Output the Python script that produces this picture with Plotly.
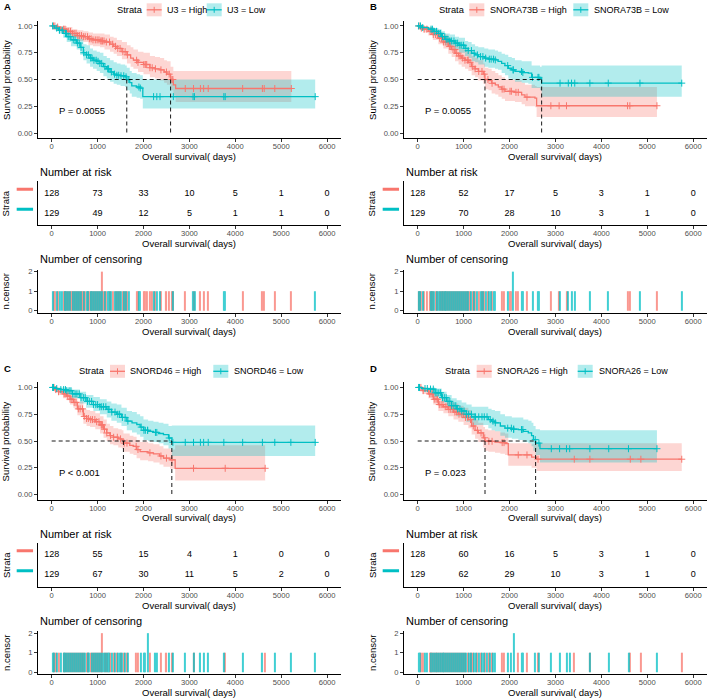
import numpy as np
import plotly.graph_objects as go
from collections import Counter

RED = "#F8766D"
TEAL = "#00BFC4"
RED_F = "rgba(248,118,109,0.3)"
TEAL_F = "rgba(0,191,196,0.3)"
FONT = "Liberation Sans, Arial, sans-serif"

# ---------------- DATA ----------------
risk_times = [0, 1000, 2000, 3000, 4000, 5000, 6000]
x_ticks = [0, 1000, 2000, 3000, 4000, 5000, 6000]
y_ticks = [0, 0.25, 0.5, 0.75, 1.0]
y_ticklabels = ["0.00", "0.25", "0.50", "0.75", "1.00"]

# Panel A : U3
a_high_t = [0, 80, 200, 330, 450, 560, 690, 800, 900, 1054, 1150, 1270, 1350, 1420, 1530, 1640, 1720, 1780, 1880, 2000, 2140, 2250, 2360, 2450, 2510, 2590, 2650, 2700, 5220]
a_high_s = [1.0, 0.99, 0.97, 0.95, 0.93, 0.91, 0.90, 0.88, 0.87, 0.86, 0.85, 0.83, 0.81, 0.79, 0.76, 0.73, 0.70, 0.68, 0.66, 0.64, 0.61, 0.60, 0.59, 0.57, 0.55, 0.50, 0.45, 0.416, 0.416]
a_high_lo = [1.0, 0.97, 0.94, 0.91, 0.89, 0.86, 0.85, 0.82, 0.81, 0.80, 0.78, 0.76, 0.74, 0.72, 0.69, 0.65, 0.62, 0.60, 0.57, 0.55, 0.52, 0.51, 0.49, 0.47, 0.45, 0.40, 0.35, 0.29, 0.29]
a_high_hi = [1.0, 1.0, 1.0, 0.99, 0.97, 0.96, 0.95, 0.94, 0.93, 0.93, 0.92, 0.90, 0.89, 0.87, 0.85, 0.82, 0.80, 0.78, 0.76, 0.75, 0.72, 0.71, 0.70, 0.68, 0.67, 0.62, 0.58, 0.58, 0.58]
a_low_t = [0, 60, 150, 250, 327, 420, 545, 620, 690, 760, 836, 900, 981, 1050, 1127, 1200, 1272, 1350, 1418, 1500, 1600, 1636, 1700, 1745, 1850, 1927, 1985, 5740]
a_low_s = [1.0, 0.98, 0.96, 0.93, 0.90, 0.87, 0.84, 0.80, 0.75, 0.73, 0.70, 0.68, 0.67, 0.65, 0.62, 0.60, 0.57, 0.55, 0.54, 0.535, 0.525, 0.50, 0.47, 0.44, 0.43, 0.42, 0.34, 0.34]
a_low_lo = [1.0, 0.96, 0.93, 0.89, 0.85, 0.81, 0.78, 0.73, 0.68, 0.65, 0.62, 0.60, 0.58, 0.56, 0.53, 0.51, 0.48, 0.46, 0.45, 0.44, 0.43, 0.40, 0.37, 0.34, 0.33, 0.32, 0.23, 0.23]
a_low_hi = [1.0, 1.0, 0.99, 0.97, 0.95, 0.93, 0.91, 0.88, 0.83, 0.82, 0.79, 0.77, 0.76, 0.75, 0.72, 0.70, 0.68, 0.66, 0.65, 0.64, 0.63, 0.61, 0.58, 0.56, 0.55, 0.54, 0.50, 0.50]
a_high_cens = [40, 70, 130, 260, 290, 330, 370, 410, 450, 490, 530, 570, 610, 650, 690, 730, 780, 820, 860, 900, 950, 990, 1030, 1070, 1100, 1100, 1140, 1190, 1260, 1330, 1390, 1440, 1490, 1550, 1600, 1650,
               1850, 1880, 2010, 2040, 2070, 2140, 2190, 2260, 2380, 2500, 2560, 2620, 2640, 2910, 3090, 3240, 3310, 3410, 4160, 4590, 4630, 4860, 5220]
a_low_cens = [20, 110, 170, 230, 300, 320, 360, 400, 470, 510, 560, 600, 640, 700, 760, 800, 850, 880, 920, 970, 1010, 1050, 1090, 1160, 1220, 1240, 1300, 1370, 1420, 1460, 1510, 1570, 1620, 1680,
              1900, 1930, 2220, 2290, 2360, 2650, 3080, 3110, 3750, 3780, 5740]
a_risk_high = [128, 73, 33, 10, 5, 1, 0]
a_risk_low = [129, 49, 12, 5, 1, 1, 0]
a_medians = [2590, 1636]

# Panel B : SNORA73B
b_high_t = [0, 60, 130, 232, 330, 450, 560, 667, 740, 813, 890, 958, 1030, 1103, 1175, 1250, 1320, 1429, 1465, 1540, 1611, 1690, 1756, 1830, 1901, 2118, 2264, 2336, 2554, 2590, 5210]
b_high_s = [1.0, 0.98, 0.97, 0.95, 0.92, 0.885, 0.85, 0.81, 0.78, 0.745, 0.72, 0.70, 0.68, 0.66, 0.62, 0.60, 0.575, 0.55, 0.50, 0.49, 0.465, 0.45, 0.43, 0.41, 0.39, 0.38, 0.357, 0.335, 0.326, 0.255, 0.255]
b_high_lo = [1.0, 0.96, 0.94, 0.91, 0.87, 0.83, 0.79, 0.74, 0.71, 0.67, 0.64, 0.62, 0.60, 0.58, 0.54, 0.52, 0.49, 0.46, 0.41, 0.40, 0.37, 0.36, 0.34, 0.32, 0.30, 0.29, 0.27, 0.25, 0.24, 0.15, 0.15]
b_high_hi = [1.0, 1.0, 1.0, 0.99, 0.97, 0.94, 0.92, 0.89, 0.86, 0.83, 0.81, 0.79, 0.77, 0.76, 0.72, 0.70, 0.68, 0.65, 0.61, 0.60, 0.58, 0.56, 0.54, 0.52, 0.50, 0.49, 0.47, 0.45, 0.44, 0.43, 0.43]
b_low_t = [0, 100, 232, 350, 450, 520, 595, 700, 813, 900, 1030, 1100, 1175, 1250, 1320, 1450, 1538, 1683, 1750, 1828, 1900, 1973, 2050, 2118, 2264, 2409, 2481, 2663, 2699, 5750]
b_low_s = [1.0, 0.985, 0.97, 0.95, 0.93, 0.90, 0.875, 0.86, 0.84, 0.82, 0.79, 0.77, 0.745, 0.73, 0.714, 0.70, 0.69, 0.683, 0.67, 0.65, 0.63, 0.605, 0.59, 0.575, 0.565, 0.56, 0.52, 0.51, 0.466, 0.466]
b_low_lo = [1.0, 0.96, 0.94, 0.91, 0.88, 0.85, 0.82, 0.80, 0.78, 0.75, 0.72, 0.70, 0.67, 0.66, 0.64, 0.62, 0.61, 0.60, 0.59, 0.56, 0.54, 0.51, 0.50, 0.48, 0.47, 0.46, 0.42, 0.40, 0.34, 0.34]
b_low_hi = [1.0, 1.0, 0.99, 0.98, 0.97, 0.95, 0.93, 0.92, 0.90, 0.89, 0.86, 0.85, 0.83, 0.81, 0.80, 0.79, 0.78, 0.77, 0.76, 0.74, 0.73, 0.71, 0.70, 0.68, 0.67, 0.67, 0.63, 0.62, 0.63, 0.63]
b_high_cens = [30, 80, 140, 200, 270, 300, 340, 390, 430, 480, 520, 560, 600, 640, 690, 720, 770, 810, 850, 900, 940, 980, 1030, 1080, 1100, 1140, 1200, 1250, 1330, 1400, 1450, 1530, 1620,
               1840, 1880, 2010, 2040, 2140, 2190, 2380, 2900, 3080, 3240, 4570, 4620, 5210]
b_low_cens = [20, 60, 110, 290, 320, 360, 410, 460, 500, 540, 590, 620, 660, 700, 740, 790, 830, 870, 920, 960, 1000, 1050, 1100, 1170, 1230, 1300, 1370, 1420, 1480, 1560, 1600, 1650, 1690,
              1960, 2080, 2080, 2260, 2290, 2500, 2620, 2640, 3100, 3280, 3350, 3420, 3750, 4150, 4840, 5750]
b_risk_high = [128, 52, 17, 5, 3, 1, 0]
b_risk_low = [129, 70, 28, 10, 3, 1, 0]
b_medians = [1465, 2699]

# Panel C : SNORD46
c_high_t = [0, 60, 150, 250, 327, 400, 473, 560, 690, 760, 836, 950, 1054, 1130, 1200, 1270, 1345, 1450, 1527, 1563, 1700, 1781, 1850, 1927, 2100, 2217, 2350, 2435, 2581, 2690, 4650]
c_high_s = [1.0, 0.98, 0.96, 0.94, 0.92, 0.89, 0.86, 0.80, 0.73, 0.71, 0.70, 0.68, 0.65, 0.61, 0.575, 0.55, 0.535, 0.52, 0.51, 0.48, 0.46, 0.45, 0.42, 0.40, 0.39, 0.38, 0.36, 0.34, 0.324, 0.245, 0.245]
c_high_lo = [1.0, 0.96, 0.93, 0.90, 0.88, 0.84, 0.81, 0.74, 0.66, 0.64, 0.63, 0.61, 0.57, 0.53, 0.50, 0.47, 0.46, 0.44, 0.43, 0.40, 0.38, 0.37, 0.34, 0.32, 0.31, 0.30, 0.28, 0.26, 0.24, 0.13, 0.13]
c_high_hi = [1.0, 1.0, 0.99, 0.98, 0.97, 0.94, 0.92, 0.87, 0.80, 0.79, 0.78, 0.76, 0.73, 0.70, 0.66, 0.64, 0.62, 0.61, 0.60, 0.57, 0.55, 0.54, 0.51, 0.49, 0.48, 0.47, 0.45, 0.43, 0.42, 0.46, 0.46]
c_low_t = [0, 100, 200, 327, 450, 618, 750, 909, 1050, 1200, 1300, 1418, 1520, 1636, 1750, 1854, 1927, 2000, 2100, 2217, 2330, 2435, 2545, 2617, 5740]
c_low_s = [1.0, 0.99, 0.98, 0.97, 0.94, 0.905, 0.87, 0.84, 0.82, 0.795, 0.77, 0.75, 0.72, 0.686, 0.67, 0.654, 0.63, 0.60, 0.59, 0.58, 0.57, 0.56, 0.528, 0.487, 0.487]
c_low_lo = [1.0, 0.97, 0.96, 0.94, 0.90, 0.85, 0.81, 0.78, 0.75, 0.72, 0.69, 0.67, 0.64, 0.60, 0.58, 0.56, 0.54, 0.51, 0.50, 0.49, 0.48, 0.46, 0.43, 0.36, 0.36]
c_low_hi = [1.0, 1.0, 1.0, 0.99, 0.98, 0.96, 0.93, 0.91, 0.89, 0.87, 0.85, 0.84, 0.81, 0.78, 0.77, 0.75, 0.73, 0.70, 0.69, 0.68, 0.67, 0.66, 0.64, 0.645, 0.645]
c_high_cens = [50, 90, 150, 270, 310, 350, 400, 440, 490, 530, 580, 620, 670, 710, 760, 800, 850, 890, 940, 980, 1030, 1080, 1100, 1100, 1150, 1200, 1280, 1350, 1430, 1500, 1580, 1640,
               1840, 1880, 2140, 2380, 2500, 2620, 3090, 3780, 4650]
c_low_cens = [20, 40, 110, 200, 260, 300, 330, 380, 420, 460, 510, 550, 600, 640, 690, 730, 780, 820, 870, 910, 960, 1000, 1050, 1090, 1130, 1180, 1230, 1250, 1310, 1380, 1440, 1480, 1540, 1600, 1660,
              1950, 2010, 2040, 2090, 2090, 2260, 2290, 2560, 2640, 2910, 3090, 3240, 3310, 3410, 3750, 4160, 4590, 4860, 5210, 5740]
c_risk_high = [128, 55, 15, 4, 1, 0, 0]
c_risk_low = [129, 67, 30, 11, 5, 2, 0]
c_medians = [1563, 2617]

# Panel D : SNORA26
d_high_t = [0, 100, 232, 340, 450, 560, 667, 780, 885, 1000, 1103, 1175, 1250, 1320, 1429, 1466, 1538, 1683, 1800, 1901, 1973, 2481, 2590, 5750]
d_high_s = [1.0, 0.97, 0.94, 0.89, 0.84, 0.82, 0.795, 0.77, 0.75, 0.72, 0.70, 0.64, 0.60, 0.575, 0.53, 0.50, 0.497, 0.49, 0.485, 0.475, 0.37, 0.35, 0.33, 0.33]
d_high_lo = [1.0, 0.94, 0.90, 0.84, 0.78, 0.76, 0.73, 0.70, 0.68, 0.65, 0.62, 0.56, 0.52, 0.49, 0.44, 0.41, 0.40, 0.39, 0.38, 0.37, 0.27, 0.25, 0.22, 0.22]
d_high_hi = [1.0, 1.0, 0.99, 0.95, 0.91, 0.89, 0.87, 0.85, 0.83, 0.81, 0.79, 0.73, 0.70, 0.67, 0.63, 0.61, 0.60, 0.59, 0.58, 0.57, 0.48, 0.47, 0.48, 0.48]
d_low_t = [0, 80, 232, 380, 522, 630, 740, 850, 958, 1060, 1175, 1538, 1610, 1683, 1800, 1901, 2050, 2191, 2300, 2409, 2480, 2520, 2568, 2663, 5210]
d_low_s = [1.0, 0.99, 0.985, 0.95, 0.905, 0.87, 0.83, 0.80, 0.78, 0.75, 0.726, 0.70, 0.685, 0.67, 0.64, 0.62, 0.61, 0.607, 0.59, 0.575, 0.55, 0.513, 0.48, 0.428, 0.428]
d_low_lo = [1.0, 0.97, 0.96, 0.91, 0.86, 0.81, 0.77, 0.73, 0.71, 0.68, 0.65, 0.62, 0.60, 0.59, 0.55, 0.53, 0.52, 0.51, 0.49, 0.48, 0.45, 0.41, 0.37, 0.30, 0.30]
d_low_hi = [1.0, 1.0, 1.0, 0.99, 0.96, 0.93, 0.90, 0.88, 0.86, 0.84, 0.82, 0.80, 0.79, 0.78, 0.75, 0.73, 0.72, 0.72, 0.70, 0.69, 0.67, 0.64, 0.61, 0.60, 0.60]
d_high_cens = [70, 120, 260, 290, 320, 360, 400, 430, 470, 510, 550, 600, 640, 680, 720, 770, 810, 850, 900, 950, 990, 1040, 1090, 1150, 1210, 1300, 1380, 1460, 1550, 1620,
               1840, 1880, 2190, 2380, 2620, 3410, 3750, 4630, 4860, 5750]
d_low_cens = [20, 40, 160, 210, 280, 340, 380, 420, 460, 500, 540, 580, 620, 660, 700, 740, 790, 830, 870, 920, 960, 1010, 1060, 1110, 1170, 1230, 1260, 1330, 1400, 1450, 1510, 1580, 1640, 1690,
              1960, 2040, 2090, 2090, 2260, 2290, 2560, 2640, 2910, 3090, 3240, 3310, 3750, 4160, 4590, 5210]
d_risk_high = [128, 60, 16, 5, 3, 1, 0]
d_risk_low = [129, 62, 29, 10, 3, 1, 0]
d_medians = [1466, 2568]

panels = [
    dict(letter="A", gene="U3", pval="P = 0.0055",
         high=(a_high_t, a_high_s, a_high_lo, a_high_hi, a_high_cens, a_risk_high),
         low=(a_low_t, a_low_s, a_low_lo, a_low_hi, a_low_cens, a_risk_low), med=a_medians,
         leg=[115, 146.7, 165, 206.7, 225]),
    dict(letter="B", gene="SNORA73B", pval="P = 0.0055",
         high=(b_high_t, b_high_s, b_high_lo, b_high_hi, b_high_cens, b_risk_high),
         low=(b_low_t, b_low_s, b_low_lo, b_low_hi, b_low_cens, b_risk_low), med=b_medians,
         leg=[436.7, 469.3, 488.3, 573.3, 591.7]),
    dict(letter="C", gene="SNORD46", pval="P < 0.001",
         high=(c_high_t, c_high_s, c_high_lo, c_high_hi, c_high_cens, c_risk_high),
         low=(c_low_t, c_low_s, c_low_lo, c_low_hi, c_low_cens, c_risk_low), med=c_medians,
         leg=[77.3, 110, 128.3, 213.3, 231.7]),
    dict(letter="D", gene="SNORA26", pval="P = 0.023",
         high=(d_high_t, d_high_s, d_high_lo, d_high_hi, d_high_cens, d_risk_high),
         low=(d_low_t, d_low_s, d_low_lo, d_low_hi, d_low_cens, d_risk_low), med=d_medians,
         leg=[443.3, 476.7, 495, 577.7, 596.7]),
]

# ---------------- LAYOUT GEOMETRY ----------------
W, H = 709, 698
COLS = [(37.9, 340.9), (403.9, 707.0)]
OFFS = [0.0, 361.5]
KM_ROW = (20.6, 138.4)
RISK_ROW = (181.3, 225.3)
CENS_ROW = (269.7, 312.7)


def px(x):
    return x / W


def py(y):
    return 1 - y / H


def step_at(t, s, x):
    t = np.asarray(t, dtype=float)
    s = np.asarray(s, dtype=float)
    i = np.searchsorted(t, np.asarray(x, dtype=float), side="right") - 1
    return s[np.clip(i, 0, len(s) - 1)]


def ann(x, y, text, size, xanchor="center", angle=0, xref="paper", yref="paper", color="black"):
    return dict(x=x, y=y, xref=xref, yref=yref, text=text, showarrow=False,
                xanchor=xanchor, yanchor="middle", textangle=angle,
                font=dict(size=size, color=color, family=FONT))


fig = go.Figure()
layout = {}
annotations = []
shapes = []

tickfont = dict(size=7.6, color="#4D4D4D", family=FONT)
axis_common = dict(showline=True, linecolor="black", linewidth=0.9, ticks="outside",
                   ticklen=3, tickcolor="#333333", tickwidth=0.8, showgrid=False,
                   zeroline=False, tickfont=tickfont, automargin=False)
DASH = "4px,3px"

for p_i, P in enumerate(panels):
    col = p_i % 2
    off = OFFS[p_i // 2]
    x0, x1 = COLS[col]
    idx_km, idx_rk, idx_cn = p_i * 3 + 1, p_i * 3 + 2, p_i * 3 + 3

    def ax(n):
        return ("x" if n == 1 else f"x{n}"), ("y" if n == 1 else f"y{n}")

    for n, (top, bot) in zip((idx_km, idx_rk, idx_cn), (KM_ROW, RISK_ROW, CENS_ROW)):
        xname = "xaxis" if n == 1 else f"xaxis{n}"
        yname = "yaxis" if n == 1 else f"yaxis{n}"
        xa, ya = ax(n)
        layout[xname] = dict(axis_common, domain=[px(x0), px(x1)], anchor=ya,
                             range=[-300, 6300], tickvals=x_ticks, ticklabelstandoff=-2)
        layout[yname] = dict(axis_common, domain=[py(bot + off), py(top + off)], anchor=xa)

    layout["yaxis" if idx_km == 1 else f"yaxis{idx_km}"].update(
        range=[-0.05, 1.05], tickvals=y_ticks, ticktext=y_ticklabels)
    layout[f"yaxis{idx_rk}"].update(range=[0.4, 2.6], showticklabels=False, ticks="")
    layout[f"yaxis{idx_cn}"].update(range=[-0.1, 2.1], tickvals=[0, 1, 2])

    xk, yk = ax(idx_km)
    xr, yr = ax(idx_rk)
    xc, yc = ax(idx_cn)

    groups = [("High", P["high"], RED, RED_F), ("Low", P["low"], TEAL, TEAL_F)]
    # CI bands
    for name, (t, s, lo, hi, cens, risk), c, cf in groups:
        fig.add_trace(go.Scatter(x=t, y=lo, mode="lines", line=dict(width=0, shape="hv", color=c),
                                 xaxis=xk, yaxis=yk, showlegend=False, hoverinfo="skip"))
        fig.add_trace(go.Scatter(x=t, y=hi, mode="lines", line=dict(width=0, shape="hv", color=c),
                                 fill="tonexty", fillcolor=cf,
                                 xaxis=xk, yaxis=yk, showlegend=False, hoverinfo="skip"))
    # curves + censor marks
    for name, (t, s, lo, hi, cens, risk), c, cf in groups:
        fig.add_trace(go.Scatter(x=t, y=s, mode="lines", line=dict(width=1.3, shape="hv", color=c),
                                 xaxis=xk, yaxis=yk, showlegend=False))
        fig.add_trace(go.Scatter(x=cens, y=step_at(t, s, cens), mode="markers",
                                 marker=dict(symbol="cross-thin", size=5, line=dict(width=1, color=c)),
                                 xaxis=xk, yaxis=yk, showlegend=False))
    # median lines
    mh = max(P["med"])
    fig.add_trace(go.Scatter(x=[0, mh], y=[0.5, 0.5], mode="lines",
                             line=dict(color="black", width=0.9, dash=DASH),
                             xaxis=xk, yaxis=yk, showlegend=False))
    for m in P["med"]:
        fig.add_trace(go.Scatter(x=[m, m], y=[0.5, 0], mode="lines",
                                 line=dict(color="black", width=0.9, dash=DASH),
                                 xaxis=xk, yaxis=yk, showlegend=False))
    # p-value
    annotations.append(ann(120, 0.21, P["pval"], 9.5, xanchor="left", xref=xk, yref=yk))

    # risk table
    for yv, (name, (t, s, lo, hi, cens, risk), c, cf) in zip((2, 1), groups):
        fig.add_trace(go.Scatter(x=risk_times, y=[yv] * len(risk_times), mode="text",
                                 text=[str(v) for v in risk], textfont=dict(size=9, color="black", family=FONT),
                                 xaxis=xr, yaxis=yr, showlegend=False))
        shapes.append(dict(type="line", xref=f"{xr} domain", yref=yr, x0=-0.070, x1=-0.016,
                           y0=yv + 0.2, y1=yv + 0.2, line=dict(color=c, width=3)))

    # censoring bars
    for name, (t, s, lo, hi, cens, risk), c, cf in groups:
        cnt = Counter(cens)
        xs = sorted(cnt)
        fig.add_trace(go.Bar(x=xs, y=[cnt[v] for v in xs], width=24, marker=dict(color=c, line=dict(width=0)),
                             opacity=0.75, xaxis=xc, yaxis=yc, showlegend=False))

    # titles / labels
    cx = px((x0 + x1) / 2)
    for ytxt in (156, 244, 331):
        annotations.append(ann(cx, py(ytxt + off), "Overall survival( days)", 9.5))
    for ytxt, txt in ((79.5, "Survival probability"), (203, "Strata"), (291, "n.censor")):
        annotations.append(ann(px(x0 - 31.5), py(ytxt + off), txt, 9.5, angle=-90))
    annotations.append(ann(px(x0), py(172 + off), "Number at risk", 11, xanchor="left"))
    annotations.append(ann(px(x0), py(259 + off), "Number of censoring", 11, xanchor="left"))
    annotations.append(ann(px(x0 - 30), py(7 + off), f"<b>{P['letter']}</b>", 9.5))

    # legend (drawn as keys + labels)
    ly = 9.8 + off
    sx, k1, t1, k2, t2 = P["leg"]
    annotations.append(ann(px(sx), py(ly), "Strata", 9.3, xanchor="left"))
    for (k, tx), (name, _, c, cf) in zip(((k1, t1), (k2, t2)), groups):
        shapes.append(dict(type="rect", xref="paper", yref="paper", x0=px(k), x1=px(k + 15),
                           y0=py(ly + 6.5), y1=py(ly - 6.5), fillcolor=cf, line=dict(width=0), layer="below"))
        shapes.append(dict(type="line", xref="paper", yref="paper", x0=px(k), x1=px(k + 15),
                           y0=py(ly), y1=py(ly), line=dict(color=c, width=1.3)))
        shapes.append(dict(type="line", xref="paper", yref="paper", x0=px(k + 7.5), x1=px(k + 7.5),
                           y0=py(ly - 3), y1=py(ly + 3), line=dict(color=c, width=1)))
        annotations.append(ann(px(tx), py(ly), f"{P['gene']} = {name}", 9, xanchor="left"))

fig.update_layout(**layout)
fig.update_layout(width=W, height=H, showlegend=False,
                  margin=dict(l=0, r=0, t=0, b=0, pad=0, autoexpand=False),
                  plot_bgcolor="white", paper_bgcolor="white",
                  font=dict(family=FONT, color="black"),
                  barmode="overlay", annotations=annotations, shapes=shapes)
fig.write_html("out.html", config={"displayModeBar": False},
               post_script="document.body.style.margin='0px';document.body.style.padding='0px';")
